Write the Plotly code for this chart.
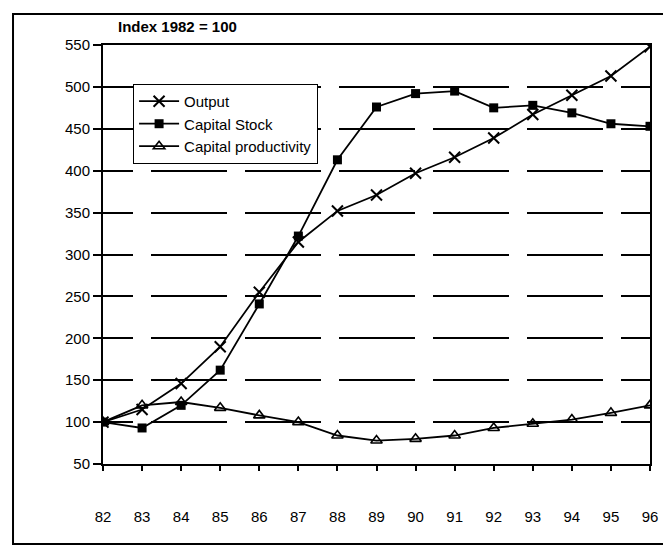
import plotly.graph_objects as go

years = ["82", "83", "84", "85", "86", "87", "88", "89", "90", "91", "92", "93", "94", "95", "96"]
output = [100, 115, 146, 190, 255, 315, 352, 371, 397, 416, 439, 467, 490, 513, 548]
capital_stock = [100, 93, 120, 162, 241, 322, 413, 476, 492, 495, 475, 478, 469, 456, 453]
capital_productivity = [100, 120, 124, 117, 108, 100, 84, 78, 80, 84, 93, 98, 103, 111, 120]

FONT = "Liberation Sans, Arial, sans-serif"

fig = go.Figure()
fig.add_trace(go.Scatter(
    x=years, y=output, name="Output", mode="lines+markers",
    line=dict(color="black", width=1.8),
    marker=dict(symbol="x-thin", size=11, line=dict(color="black", width=2)),
))
fig.add_trace(go.Scatter(
    x=years, y=capital_stock, name="Capital Stock", mode="lines+markers",
    line=dict(color="black", width=1.8),
    marker=dict(symbol="square", size=9, color="black"),
))
fig.add_trace(go.Scatter(
    x=years, y=capital_productivity, name="Capital productivity", mode="lines+markers",
    line=dict(color="black", width=1.8),
    marker=dict(symbol="triangle-up-open", size=10, color="black", line=dict(color="black", width=1.6)),
))

fig.update_layout(
    width=663, height=548,
    margin=dict(l=95, r=21, t=37, b=92),
    paper_bgcolor="white", plot_bgcolor="white",
    font=dict(family=FONT, color="black", size=15),
    showlegend=True,
    legend=dict(
        x=0.055, y=0.907, xanchor="left", yanchor="top",
        bgcolor="white", bordercolor="black", borderwidth=1,
        font=dict(family=FONT, size=15, color="black"),
        itemwidth=40, tracegroupgap=0,
    ),
    xaxis=dict(
        type="category", range=[0, 14],
        showline=True, linecolor="black", linewidth=2, mirror=True,
        ticks="outside", ticklen=5, tickwidth=1.5, tickcolor="black",
        showgrid=False, zeroline=False,
        ticklabelstandoff=33,
        tickfont=dict(family=FONT, size=15, color="black"),
    ),
    xaxis2=dict(
        overlaying="x", matches="x", anchor="y", type="category", range=[0, 14],
        tickmode="array", tickvals=list(range(len(years))),
        ticks="inside", ticklen=5, tickwidth=1.5, tickcolor="black",
        showticklabels=False, showgrid=False, showline=False, zeroline=False,
    ),
    yaxis=dict(
        range=[50, 550], dtick=50, tick0=50,
        showline=True, linecolor="black", linewidth=2, mirror=True,
        ticks="outside", ticklen=8, tickwidth=1.5, tickcolor="black",
        showgrid=True, gridcolor="black", gridwidth=1.5,
        griddash="30px,18px,76px,18px,76px,18px,76px,18px,76px,18px,76px,18px,76px,18px",
        zeroline=False,
        tickfont=dict(family=FONT, size=15, color="black"),
    ),
    annotations=[dict(
        text="<b>Index 1982 = 100</b>", xref="paper", yref="paper",
        x=0.137, y=1.043, xanchor="center", yanchor="middle", showarrow=False,
        font=dict(family=FONT, size=15, color="black"),
    )],
    shapes=[dict(
        type="rect", xref="paper", yref="paper",
        x0=-0.1645, x1=1.0347, y0=-0.191, y1=1.074,
        line=dict(color="black", width=2), fillcolor="rgba(0,0,0,0)", layer="below",
    )],
)

fig.write_html("out.html")
